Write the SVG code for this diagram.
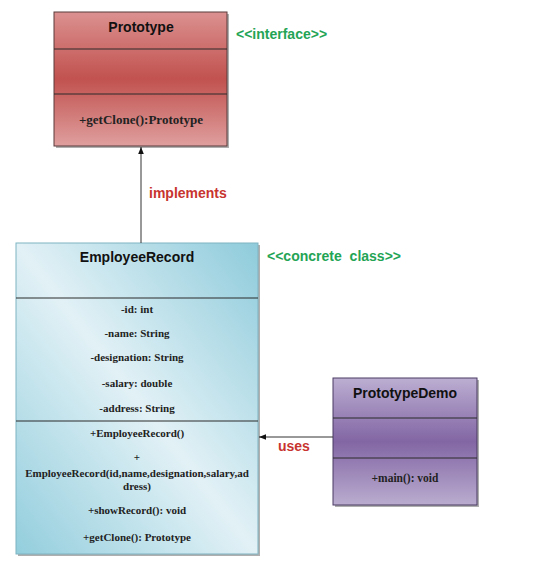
<svg xmlns="http://www.w3.org/2000/svg" width="540" height="567" viewBox="0 0 540 567">
<defs>
<linearGradient id="gRed" x1="0" y1="0" x2="0" y2="1">
<stop offset="0" stop-color="#db9190"/>
<stop offset="0.5" stop-color="#c1524f"/>
<stop offset="1" stop-color="#df9f9e"/>
</linearGradient>
<linearGradient id="gBlue" x1="1" y1="0" x2="0" y2="1">
<stop offset="0" stop-color="#8ecbdb"/>
<stop offset="0.5" stop-color="#e2f1f6"/>
<stop offset="1" stop-color="#93cedd"/>
</linearGradient>
<linearGradient id="gPurple" x1="0" y1="0" x2="0" y2="1">
<stop offset="0" stop-color="#bcaed2"/>
<stop offset="0.5" stop-color="#8266a4"/>
<stop offset="1" stop-color="#baaccf"/>
</linearGradient>
<marker id="arr" viewBox="0 0 10 10" refX="10" refY="5" markerWidth="7" markerHeight="7" orient="auto" markerUnits="userSpaceOnUse">
<path d="M0,1 L10,5 L0,9 Z" fill="#111"/>
</marker>
</defs>
<style>
.box{stroke:#5a3a3a;stroke-width:1}
.shadow{fill:#7a7a7a;opacity:0.6}
.div{stroke:#2a2a2a;stroke-width:1}
.title{font-family:"Liberation Sans",Arial,sans-serif;font-weight:bold;font-size:14px;fill:#111;text-anchor:middle}
.mem{font-family:"Liberation Serif","Times New Roman",serif;font-weight:bold;font-size:11px;fill:#222;text-anchor:middle}
.lbl{font-family:"Liberation Sans",Arial,sans-serif;font-weight:bold;font-size:14px}
.red{fill:#c8342f}
.green{fill:#23a455}
.conn{stroke:#333;stroke-width:1;fill:none}
</style>

<g id="Prototype">
<rect class="shadow" x="56" y="14" width="173" height="134"/>
<rect class="box" x="54" y="12" width="173" height="134" fill="url(#gRed)"/>
<line class="div" x1="54" y1="49" x2="227" y2="49"/>
<line class="div" x1="54" y1="94" x2="227" y2="94"/>
<text class="title" x="141" y="32">Prototype</text>
<text class="mem" x="141" y="124" style="font-size:13px">+getClone():Prototype</text>
</g>
<text id="interfaceLabel" class="lbl green" x="236" y="39">&lt;&lt;interface&gt;&gt;</text>

<g id="EmployeeRecord">
<rect class="shadow" x="18" y="245" width="242" height="311"/>
<rect x="16" y="243" width="242" height="311" fill="url(#gBlue)" stroke="#7fb3c2" stroke-width="1"/>
<line class="div" x1="16" y1="298" x2="258" y2="298"/>
<line class="div" x1="16" y1="421" x2="258" y2="421"/>
<text class="title" x="137" y="262">EmployeeRecord</text>
<text class="mem" x="137" y="313">-id: int</text>
<text class="mem" x="137" y="337">-name: String</text>
<text class="mem" x="137" y="361">-designation: String</text>
<text class="mem" x="137" y="387">-salary: double</text>
<text class="mem" x="137" y="412">-address: String</text>
<text class="mem" x="137" y="437">+EmployeeRecord()</text>
<text class="mem" x="137" y="461">+</text>
<text class="mem" x="137" y="477">EmployeeRecord(id,name,designation,salary,ad</text>
<text class="mem" x="137" y="490">dress)</text>
<text class="mem" x="137" y="514">+showRecord(): void</text>
<text class="mem" x="137" y="541">+getClone(): Prototype</text>
</g>
<text id="concreteLabel" class="lbl green" x="267" y="261" word-spacing="4">&lt;&lt;concrete class&gt;&gt;</text>

<g id="PrototypeDemo">
<rect class="shadow" x="335" y="380" width="144" height="127"/>
<rect x="333" y="378" width="144" height="127" fill="url(#gPurple)" stroke="#4b3a63" stroke-width="1"/>
<line class="div" x1="333" y1="418" x2="477" y2="418"/>
<line class="div" x1="333" y1="458" x2="477" y2="458"/>
<text class="title" x="405" y="398">PrototypeDemo</text>
<text class="mem" x="405" y="482" style="font-size:11.5px">+main(): void</text>
</g>

<g id="connectors">
<line class="conn" x1="141" y1="243" x2="141" y2="147" marker-end="url(#arr)"/>
<text class="lbl red" x="149" y="198">implements</text>
<line class="conn" x1="333" y1="437" x2="259" y2="437" marker-end="url(#arr)"/>
<text class="lbl red" x="278" y="451">uses</text>
</g>
</svg>
